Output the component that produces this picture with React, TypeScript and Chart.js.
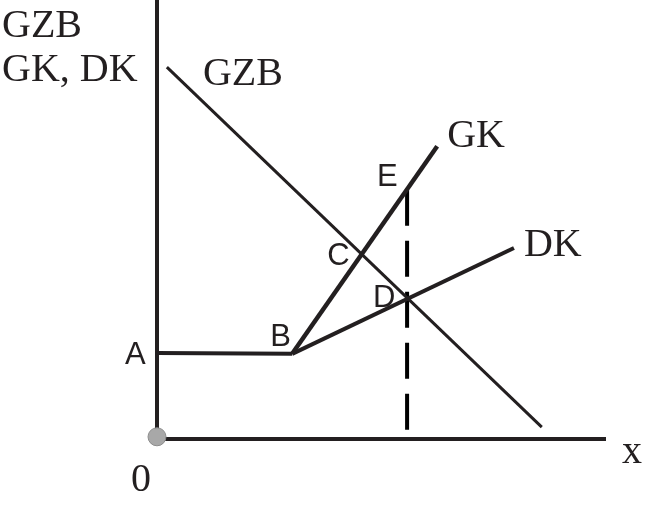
import React, { useEffect, useRef } from "react";
import { Chart, registerables } from "chart.js";

Chart.register(...registerables);

// Axis extents (data units)
const axisMax = 10;
const xAxisX = [0, axisMax];
const xAxisY = [0, 0];
const yAxisX = [0, 0];
const yAxisY = [0, axisMax];

// Curves
const flatX = [0, 3.01];
const flatY = [1.96, 1.94];
const gzbX = [0.22, 8.57];
const gzbY = [8.47, 0.27];
const gkX = [3.01, 6.24];
const gkY = [1.94, 6.67];
const dkX = [3.01, 7.95];
const dkY = [1.94, 4.35];
const dashX = [5.57, 5.57];
const dashY = [5.68, 0.14];

// Origin marker
const originX = [0];
const originY = [0.05];

// Point labels
const pointNames = ["A", "B", "C", "D", "E"];
const pointX = [0, 3.01, 4.57, 5.57, 5.57];
const pointY = [1.96, 1.94, 4.21, 3.21, 5.68];

// Curve / axis labels
const curveNames = ["GZB", "GK", "DK", "0", "x", "GZB", "GK, DK"];
const curveX = [0.22, 6.24, 7.95, 0, 10, 0, 0];
const curveY = [8.47, 6.67, 4.35, 0, 0, 10, 10];

const ink = "#231f20";
const SERIF = "'Liberation Serif', 'Times New Roman', Tinos, serif";
const SANS = "'Liberation Sans', Arial, Arimo, sans-serif";

const zip = (xs: number[], ys: number[]) => xs.map((x, i) => ({ x, y: ys[i] }));

export default function App() {
  const ref = useRef<HTMLCanvasElement>(null);

  useEffect(() => {
    let chart: Chart | null = null;
    let cancelled = false;
    const pointOffsets = [
      [-32, 11],
      [-22, -8],
      [-35, 11],
      [-34, 9],
      [-30, -4],
    ];
    const curveOffsets = [
      [36, 18],
      [10, 1],
      [10, 8],
      [-26, 52],
      [16, 24],
      [-155, 37],
      [-155, 81],
    ];
    const curveSizes = [40, 40, 40, 40, 40, 40, 40];
    const labelPlugin = {
      id: "labels",
      afterDraw(c: any) {
        const { ctx, scales } = c;
        const xs = scales.x;
        const ys = scales.y;
        ctx.save();
        ctx.fillStyle = ink;
        ctx.textAlign = "left";
        ctx.textBaseline = "alphabetic";
        ctx.font = `31px ${SANS}`;
        pointNames.forEach((t, i) => {
          ctx.fillText(
            t,
            xs.getPixelForValue(pointX[i]) + pointOffsets[i][0],
            ys.getPixelForValue(pointY[i]) + pointOffsets[i][1]
          );
        });
        curveNames.forEach((t, i) => {
          ctx.font = `${curveSizes[i]}px ${SERIF}`;
          ctx.fillText(
            t,
            xs.getPixelForValue(curveX[i]) + curveOffsets[i][0],
            ys.getPixelForValue(curveY[i]) + curveOffsets[i][1]
          );
        });
        ctx.restore();
      },
    };

    const line = (data: any[], width: number, extra: any = {}) => ({
      type: "line",
      data,
      borderColor: ink,
      borderWidth: width,
      pointRadius: 0,
      pointHoverRadius: 0,
      fill: false,
      tension: 0,
      clip: false,
      borderCapStyle: "butt",
      ...extra,
    });

    const build = () => {
      if (cancelled || !ref.current) return;
      chart = new Chart(ref.current, {
        type: "line",
        data: {
          datasets: [
            {
              type: "scatter",
              data: zip(originX, originY),
              pointRadius: 9,
              pointHoverRadius: 9,
              pointBackgroundColor: "#a8a8a8",
              pointBorderColor: "#8c8c8c",
              pointBorderWidth: 1,
              clip: false,
            } as any,
            line(zip(yAxisX, yAxisY), 4) as any,
            line(zip(xAxisX, xAxisY), 4) as any,
            line(zip(flatX, flatY), 4) as any,
            line(zip(gzbX, gzbY), 3) as any,
            line(zip(gkX, gkY), 4.5) as any,
            line(zip(dkX, dkY), 4) as any,
            line(zip(dashX, dashY), 4, { borderColor: "#000", borderDash: [36, 15] }) as any,
          ],
        },
        options: {
          animation: false,
          responsive: false,
          events: [],
          layout: { autoPadding: false, padding: { left: 157, top: 0, right: 46, bottom: 77 } },
          plugins: { legend: { display: false }, tooltip: { enabled: false } },
          scales: {
            x: { type: "linear", min: 0, max: axisMax, display: false },
            y: { type: "linear", min: 0, max: axisMax, display: false },
          },
        } as any,
        plugins: [labelPlugin],
      });
    };

    const fontsApi = (document as any).fonts;
    if (fontsApi && fontsApi.load) {
      Promise.all([
        fontsApi.load(`40px ${SERIF}`),
        fontsApi.load(`31px ${SANS}`),
      ])
        .catch(() => null)
        .then(build);
    } else {
      build();
    }
    return () => {
      cancelled = true;
      if (chart) chart.destroy();
    };
  }, []);

  return (
    <div style={{ position: "fixed", left: 0, top: 0, width: 652, height: 516, background: "#fff" }}>
      <canvas ref={ref} width={652} height={516} />
    </div>
  );
}
